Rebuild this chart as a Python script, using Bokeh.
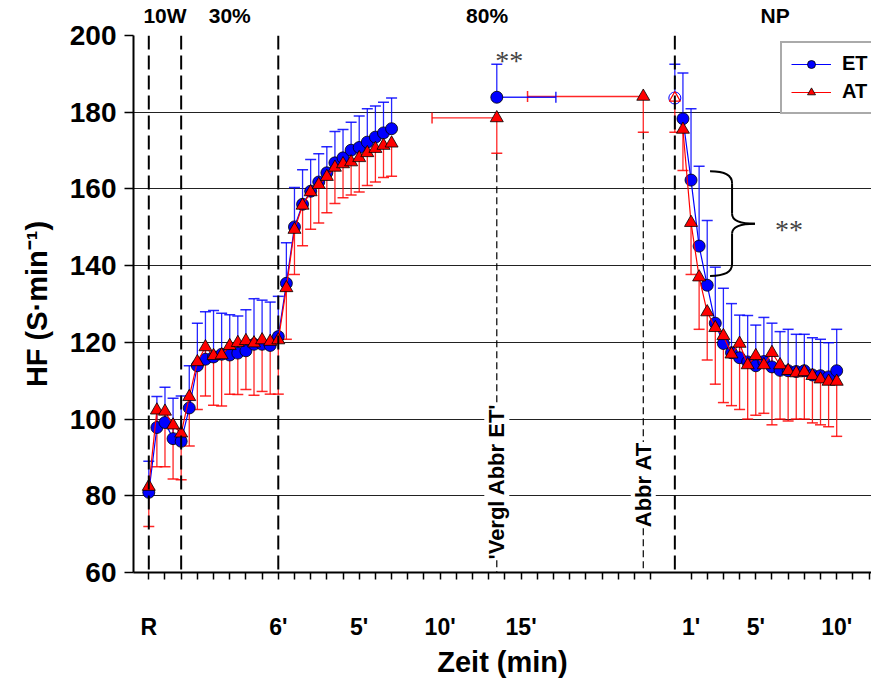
import math
from bokeh.plotting import figure
from bokeh.models import Range1d, FixedTicker, LinearAxis, Span, Label, Legend, LegendItem
from bokeh.embed import file_html
from bokeh.resources import INLINE

# ---------------- data (time index: one step = 30 s) ----------------
run_t = list(range(0, 31))          # R (0), 10 W (1-4), 30 % (5-16), 80 % (17-30)
et_run = [80.9, 97.8, 99.1, 94.9, 94.2, 102.9, 113.9, 115.6, 116.2, 116.9, 116.7,
          117.2, 117.8, 119.5, 119.5, 119.2, 121.5, 135.4, 150.1, 156.0, 159.4,
          161.8, 164.2, 166.8, 168.1, 170.1, 170.8, 172.2, 173.5, 174.6, 175.7]
et_run_hi = [89.0, 105.9, 108.3, 105.4, 106.0, 113.9, 125.0, 128.0, 128.3, 127.6, 127.2,
             126.9, 128.5, 131.4, 131.0, 130.5, 132.0, 146.0, 160.4, 165.0, 167.7,
             169.2, 171.0, 175.0, 175.5, 177.4, 179.0, 180.9, 181.6, 182.6, 183.7]
at_run = [82.4, 102.3, 102.0, 98.4, 96.3, 105.8, 114.9, 118.8, 116.5, 116.7, 119.1,
          119.9, 120.4, 119.8, 120.6, 120.2, 120.6, 134.2, 149.4, 155.7, 159.2,
          161.1, 163.2, 165.6, 166.5, 167.0, 168.1, 169.4, 170.5, 171.3, 171.9]
at_run_lo = [72.0, 87.6, 87.6, 84.4, 84.2, 93.0, 102.5, 106.0, 103.6, 103.4, 106.5,
             106.4, 107.7, 106.2, 107.2, 106.5, 106.5, 120.8, 137.7, 145.2, 149.5,
             151.1, 153.8, 156.2, 157.7, 158.4, 159.2, 160.9, 161.8, 163.0, 163.3]

rec_t = list(range(66, 86))         # Nachphase, 30 s .. 10 min
et_rec = [178.3, 162.3, 145.1, 134.9, 125.0, 119.7, 117.3, 116.0, 114.9, 113.9,
          115.0, 113.6, 112.7, 112.6, 112.4, 112.6, 111.5, 111.3, 111.0, 112.6]
et_rec_hi = [190.2, 180.9, 165.9, 151.8, 139.6, 134.1, 130.1, 127.1, 127.0, 124.5,
             126.5, 125.0, 122.8, 123.4, 122.1, 122.1, 121.2, 120.8, 119.9, 123.4]
at_rec = [175.5, 151.2, 137.0, 127.9, 123.8, 121.7, 116.9, 119.7, 114.1, 116.5,
          114.1, 117.3, 114.1, 112.6, 112.0, 112.3, 111.3, 110.4, 109.8, 109.8]
at_rec_lo = [164.8, 137.7, 123.4, 115.4, 109.1, 104.3, 103.5, 102.5, 100.0, 101.0,
             101.5, 98.5, 100.0, 99.5, 100.0, 100.0, 99.0, 98.5, 98.0, 95.5]

# exhaustion ("Vergl Abbr ET") and AT exhaustion ("Abbr AT")
vergl_t = [43]
vergl_t_hi = [50.3]
vergl_t_lo = [35]
vergl_et = [183.9]
vergl_et_hi = [192.5]
vergl_at = [178.5]
vergl_at_lo = [169.3]
abbr_t = [61.1]
abbr_t_lo = [46.8]
abbr_at = [184.1]
abbr_at_lo = [174.8]
end_t = [65]
end_et = [183.7]
end_et_hi = [192.5]
end_at = [183.7]
end_at_lo = [174.8]

phase_lines = [0, 4, 16, 65]
phase_names = ["10W", "30%", "80%", "NP"]
phase_name_pos = [2, 10, 41.8, 77.4]

x_ticks = list(range(0, 63, 2)) + list(range(67, 90, 2))
x_tick_labels = {0: "R", 16: "6'", 26: "5'", 36: "10'", 46: "15'", 67: "1'", 75: "5'", 85: "10'"}
y_ticks = [60, 80, 100, 120, 140, 160, 180, 200]

BLUE = "#0000FF"
RED = "#FF0000"
FONT = "Liberation Sans"

p = figure(width=871, height=682, output_backend="svg", toolbar_location=None,
           x_range=Range1d(-1.89, 89.3), y_range=Range1d(60, 200),
           min_border_left=133, min_border_right=0, min_border_top=34, min_border_bottom=110)
p.outline_line_color = None
p.background_fill_color = "white"
p.border_fill_color = "white"

# axes
p.xaxis.ticker = FixedTicker(ticks=x_ticks)
p.xaxis.major_label_overrides = {t: x_tick_labels.get(t, "") for t in x_ticks}
p.xaxis.minor_tick_line_color = None
p.xaxis.major_tick_in = 0
p.xaxis.major_tick_out = 7
p.xaxis.major_label_standoff = 34
p.xaxis.axis_label = "Zeit (min)"
p.xaxis.axis_label_standoff = 3
p.yaxis.ticker = FixedTicker(ticks=y_ticks)
p.yaxis.minor_tick_line_color = None
p.yaxis.major_tick_in = 0
p.yaxis.major_tick_out = 9
p.yaxis.major_label_standoff = 8
p.yaxis.axis_label = "HF (S·min⁻¹)"
p.yaxis.axis_label_standoff = 14
for ax in (p.xaxis[0], p.yaxis[0]):
    ax.axis_line_width = 2
    ax.axis_line_color = "black"
    ax.major_tick_line_width = 1.5
    ax.major_tick_line_color = "black"
    ax.major_label_text_font = FONT
    ax.major_label_text_font_style = "bold"
    ax.major_label_text_color = "black"
    ax.axis_label_text_font = FONT
    ax.axis_label_text_font_style = "bold"
    ax.axis_label_text_color = "black"
    ax.axis_label_text_font_size = "29px"
p.xaxis.major_label_text_font_size = "23px"
p.yaxis.major_label_text_font_size = "28px"

top = LinearAxis(ticker=FixedTicker(ticks=phase_name_pos),
                 major_label_overrides=dict(zip(phase_name_pos, phase_names)))
top.axis_line_color = None
top.major_tick_line_color = None
top.minor_tick_line_color = None
top.major_label_standoff = 3
top.major_label_text_font = FONT
top.major_label_text_font_style = "bold"
top.major_label_text_font_size = "21px"
top.major_label_text_color = "black"
p.add_layout(top, "above")

p.xgrid.grid_line_color = None
p.ygrid.ticker = FixedTicker(ticks=y_ticks)
p.ygrid.grid_line_color = "#222222"
p.ygrid.grid_line_width = 1.2

# phase boundaries
for xl in phase_lines:
    p.add_layout(Span(location=xl, dimension="height", line_color="black",
                      line_width=2, line_dash="14 6"))

# thin dashed markers for exhaustion times
p.segment(x0=vergl_t, y0=vergl_at_lo, x1=vergl_t, y1=[60], line_color="black",
          line_width=1.2, line_dash="7 4")
p.segment(x0=abbr_t, y0=abbr_at_lo, x1=abbr_t, y1=[60], line_color="black",
          line_width=1.2, line_dash="7 4")

p.add_layout(Label(x=vergl_t[0], y=83.7, text="'Vergl Abbr ET'", angle=math.pi / 2,
                   text_align="center", text_baseline="middle", text_font=FONT,
                   text_font_style="bold", text_font_size="22px", text_color="black",
                   background_fill_color="white"))
p.add_layout(Label(x=abbr_t[0], y=82.9, text="Abbr AT", angle=math.pi / 2,
                   text_align="center", text_baseline="middle", text_font=FONT,
                   text_font_style="bold", text_font_size="22px", text_color="black",
                   background_fill_color="white"))


def v_err(xs, y0s, y1s, color):
    p.segment(x0=xs, y0=y0s, x1=xs, y1=y1s, line_color=color, line_width=1.3, line_alpha=0.85)
    p.scatter(xs, y1s, marker="dash", size=11, line_color=color, line_width=1.5, line_alpha=0.85)


def h_err(x0s, x1s, ys, color):
    p.segment(x0=x0s, y0=ys, x1=x1s, y1=ys, line_color=color, line_width=1.3, line_alpha=0.85)
    p.scatter(x1s, ys, marker="dash", size=11, angle=math.pi / 2, line_color=color,
              line_width=1.5, line_alpha=0.85)


# error bars (ET up, AT down)
v_err(run_t, et_run, et_run_hi, BLUE)
v_err(rec_t, et_rec, et_rec_hi, BLUE)
v_err(vergl_t, vergl_et, vergl_et_hi, BLUE)
v_err(end_t, end_et, end_et_hi, BLUE)
v_err(run_t, at_run, at_run_lo, RED)
v_err(rec_t, at_rec, at_rec_lo, RED)
v_err(vergl_t, vergl_at, vergl_at_lo, RED)
v_err(abbr_t, abbr_at, abbr_at_lo, RED)
v_err(end_t, end_at, end_at_lo, RED)
h_err(vergl_t, vergl_t_lo, vergl_at, RED)
h_err(abbr_t, abbr_t_lo, abbr_at, RED)
h_err(vergl_t, vergl_t_hi, vergl_et, BLUE)

# series
et_line = p.line(run_t, et_run, line_color=BLUE, line_width=1.2)
p.line(rec_t, et_rec, line_color=BLUE, line_width=1.2)
et_pts = p.scatter(run_t + vergl_t + rec_t, et_run + vergl_et + et_rec, marker="circle",
                   size=12, fill_color=BLUE, line_color="black", line_width=0.8)
at_line = p.line(run_t, at_run, line_color=RED, line_width=1.2)
p.line(rec_t, at_rec, line_color=RED, line_width=1.2)
at_pts = p.scatter(run_t + vergl_t + abbr_t + rec_t, at_run + vergl_at + abbr_at + at_rec,
                   marker="triangle", size=13, fill_color=RED, line_color="black", line_width=0.8)
p.scatter(end_t, end_et, marker="circle", size=12, fill_color="white", line_color=BLUE, line_width=1)
p.scatter(end_t, end_at, marker="triangle", size=11, fill_color=None, line_color=RED, line_width=1.2)

# significance marks
p.add_layout(Label(x=vergl_t[0] - 0.2, y=189.5, text="**", text_font="Liberation Serif",
                   text_font_size="28px", text_color="#444444", text_baseline="bottom"))
brace_top, brace_bot, brace_x0, brace_x1, brace_tip = 164.6, 137.3, 69.35, 72.07, 74.9
brace_mid = (brace_top + brace_bot) / 2
p.quadratic(x0=[brace_x0, brace_x1, brace_tip, brace_x1],
            y0=[brace_top, brace_mid + 2.6, brace_mid, brace_bot + 3.1],
            x1=[brace_x1, brace_tip, brace_x1, brace_x0],
            y1=[brace_top - 3.1, brace_mid, brace_mid - 2.6, brace_bot],
            cx=[brace_x1, brace_x1, brace_x1, brace_x1],
            cy=[brace_top, brace_mid, brace_mid, brace_bot],
            line_color="black", line_width=2)
p.segment(x0=[brace_x1, brace_x1], y0=[brace_top - 3.1, brace_mid - 2.6],
          x1=[brace_x1, brace_x1], y1=[brace_mid + 2.6, brace_bot + 3.1],
          line_color="black", line_width=2)
p.add_layout(Label(x=79.1, y=brace_mid - 1.5, text="**", text_font="Liberation Serif",
                   text_font_size="28px", text_color="#444444", text_align="center",
                   text_baseline="middle"))

legend = Legend(items=[LegendItem(label="ET", renderers=[et_line, et_pts]),
                       LegendItem(label="AT", renderers=[at_line, at_pts])],
                location=(647, 458), margin=0, padding=9, spacing=5,
                glyph_width=40, glyph_height=20, label_height=20, label_standoff=11,
                label_text_font=FONT, label_text_font_style="bold", label_text_font_size="20px",
                label_text_color="black",
                border_line_color="#555555", border_line_width=2, background_fill_alpha=1)
p.add_layout(legend)

open("out.html", "w").write(file_html(p, INLINE))
